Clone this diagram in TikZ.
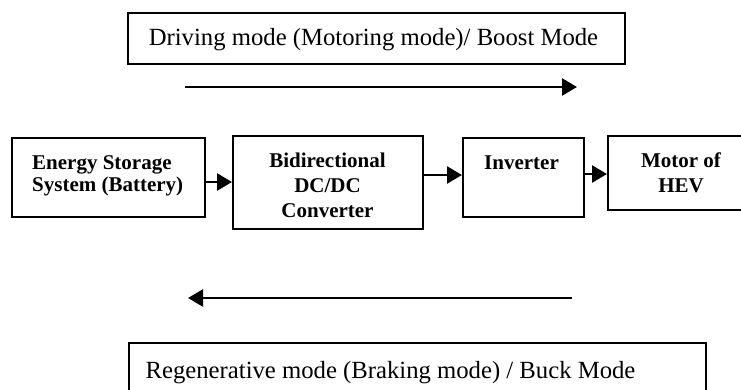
\documentclass[tikz,border=0pt]{standalone}
\usepackage{fontspec}
\setmainfont{Liberation Serif}
\usetikzlibrary{arrows.meta}
\tikzset{
  boxshape/.style={draw, line width=2pt, rectangle, inner sep=0pt},
  modetext/.style={font=\fontsize{24.7}{28}\selectfont, inner sep=0pt, anchor=base},
  boldtext/.style={inner sep=0pt, anchor=base},
  conn/.style={line width=2.5pt, -{Triangle[length=15pt,width=17pt]}},
  flow/.style={line width=2.6pt, -{Triangle[length=15pt,width=17pt]}}
}
\begin{document}
\begin{tikzpicture}[x=1pt,y=-1pt]
\clip (0,0) rectangle (741,389);
\fill[white] (0,0) rectangle (741,389);
% top mode box
\node[boxshape, minimum width=497pt, minimum height=51pt] (topbox) at (376.5,38.5) {};
\node[modetext] (toptext) at (373.5,45) {Driving mode (Motoring mode)/ Boost Mode};
% flow arrows
\coordinate (fa1) at (185,87);
\coordinate (fa2) at (577,87);
\draw[flow] (fa1) -- (fa2);
\coordinate (ba1) at (572,298);
\coordinate (ba2) at (188,298);
\draw[flow] (ba1) -- (ba2);
% blocks
\node[boxshape, minimum width=193pt, minimum height=79pt] (b1) at (108.5,177.5) {};
\node[boxshape, minimum width=190pt, minimum height=93pt] (b2) at (328,182.5) {};
\node[boxshape, minimum width=121pt, minimum height=79pt] (b3) at (523.5,177.5) {};
\node[boxshape, minimum width=160pt, minimum height=74pt] (b4) at (688,173) {};
% block texts
\node[boldtext, anchor=base west] (t1) at (32,169)
  {\fontsize{21}{22}\selectfont\bfseries\begin{tabular}[t]{@{}l@{}}Energy Storage\\System (Battery)\end{tabular}};
\node[boldtext] (t2) at (327.5,167)
  {\fontsize{21}{25}\selectfont\bfseries\begin{tabular}[t]{@{}c@{}}Bidirectional\\DC/DC\\Converter\end{tabular}};
\node[boldtext] (t3) at (521.5,169)
  {\fontsize{21}{25}\selectfont\bfseries Inverter};
\node[boldtext] (t4) at (681,167)
  {\fontsize{21}{25}\selectfont\bfseries\begin{tabular}[t]{@{}c@{}}Motor of\\HEV\end{tabular}};
% connectors
\coordinate (y12) at (0,182);
\coordinate (y23) at (0,175);
\coordinate (y34) at (0,174);
\draw[conn] (b1.east |- y12) -- (b2.west |- y12);
\draw[conn] (b2.east |- y23) -- (b3.west |- y23);
\draw[conn] (b3.east |- y34) -- (b4.west |- y34);
% bottom mode box
\node[boxshape, minimum width=577pt, minimum height=80pt] (botbox) at (417.5,383) {};
\node[modetext] (bottext) at (390.5,378) {Regenerative mode (Braking mode) / Buck Mode};
\end{tikzpicture}
\end{document}
